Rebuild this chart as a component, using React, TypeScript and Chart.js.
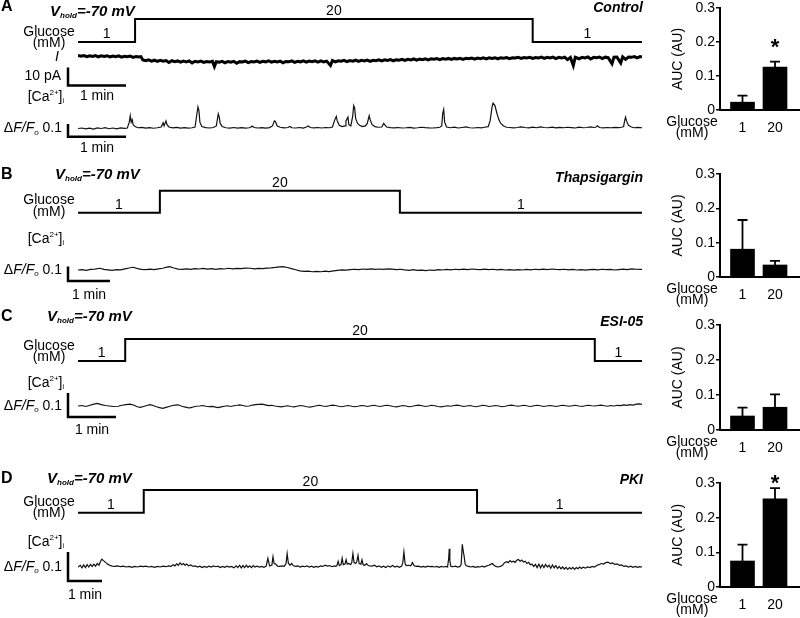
import React, { useEffect, useRef } from "react";
import { Chart, registerables } from "chart.js";
Chart.register(...registerables);

const FAMILY = '"Liberation Sans", Arial, Helvetica, sans-serif';

// ---------------- DATA ----------------
// Glucose protocol: [time (s), glucose (mM)]
const glucoseA = [[0, 1], [59, 1], [59, 20], [470, 20], [470, 1], [583, 1]];
const glucoseB = [[0, 1], [117, 1], [117, 20], [460, 20], [460, 1], [806, 1]];
const glucoseC = [[0, 1], [59, 1], [59, 20], [646, 20], [646, 1], [705, 1]];
const glucoseD = [[0, 1], [116, 1], [116, 20], [704, 20], [704, 1], [995, 1]];

// Holding current in panel A: [time (s), pA relative to start]
const currentA = [[0,-0.2],[3,-0.7],[6,-0.3],[9,-0.9],[12,-0.4],[15,-0.8],[18,-0.3],[21,-1.0],[24,-0.5],[27,-0.8],[30,-0.4],[33,-1.1],[36,-0.6],[39,-0.9],[42,-0.5],[45,-1.2],[48,-0.7],[51,-1.0],[54,-0.6],[57,-1.3],[60,-0.8],[63,-1.1],[65,-0.9],
[67,-2.8],[70,-3.2],[73,-2.7],[76,-3.4],[79,-2.9],[82,-3.6],[85,-3.0],[88,-3.5],[91,-3.1],[94,-4.2],[97,-3.2],[100,-3.7],[103,-3.3],[106,-4.0],[109,-3.4],[112,-3.8],[115,-3.3],[118,-4.4],[121,-3.5],[124,-3.9],[127,-3.4],[130,-4.1],[133,-3.6],[136,-3.9],[139,-3.5],[141,-6.4],[143,-3.7],[146,-4.0],[149,-3.5],[152,-4.3],[155,-3.6],[158,-4.0],[161,-3.5],[164,-4.6],[167,-3.7],[170,-3.9],[173,-3.4],[176,-4.2],[179,-3.6],[182,-3.9],[185,-3.4],[188,-4.1],[191,-3.5],[194,-3.8],[197,-3.3],[200,-4.0],[203,-3.5],[206,-3.9],[209,-3.4],[212,-4.3],[215,-3.6],[218,-3.8],[221,-3.3],[224,-4.1],[227,-3.5],[230,-3.8],[233,-3.3],[236,-4.0],[239,-3.4],[242,-3.7],[245,-3.2],[248,-3.9],[251,-3.2],[254,-3.8],[257,-3.4],[261,-5.8],[263,-3.1],[266,-3.8],[269,-3.2],[272,-3.5],[275,-3.0],[278,-3.7],[281,-3.1],[284,-3.4],[287,-2.9],[290,-3.6],[293,-3.0],[296,-3.3],[299,-2.8],[302,-3.5],[305,-2.9],[308,-3.2],[311,-2.7],[314,-3.3],[317,-2.7],[320,-3.0],[323,-2.5],[326,-3.2],[329,-2.6],[332,-2.9],[335,-2.4],[338,-3.0],[341,-2.4],[344,-2.7],[347,-2.2],[350,-2.9],[353,-2.3],[356,-2.6],[359,-2.1],[362,-2.7],[365,-2.1],[368,-2.4],[371,-2.0],[374,-2.6],[377,-2.0],[380,-2.3],[383,-1.9],[386,-2.5],[389,-1.9],[392,-2.2],[395,-1.8],[398,-2.4],[401,-1.8],[404,-2.1],[407,-1.7],[410,-2.3],[413,-1.7],[416,-2.0],[419,-1.6],[422,-2.2],[425,-1.6],[428,-1.9],[431,-1.5],[434,-2.1],[437,-1.5],[440,-1.8],[443,-1.4],[446,-2.0],[449,-1.5],[452,-1.7],[455,-1.3],[458,-1.9],[461,-1.4],[464,-1.7],[467,-1.3],[470,-1.9],[473,-1.4],[476,-1.6],[479,-1.2],[482,-1.9],[485,-1.3],[488,-1.6],[491,-1.2],[494,-2.0],[497,-1.3],[500,-1.7],[503,-1.2],[506,-2.6],[509,-1.4],[512,-5.8],[514,-1.3],[518,-2.1],[521,-1.3],[524,-1.6],[527,-1.1],[530,-2.2],[533,-1.3],[536,-1.5],[539,-1.1],[542,-2.0],[545,-1.2],[548,-1.5],[552,-4.8],[554,-1.2],[557,-1.1],[561,-4.4],[563,-1.0],[566,-2.4],[569,-1.1],[572,-1.3],[575,-0.9],[578,-1.6],[581,-0.9],[583,-1.2]];

// [Ca2+]i traces: [time (s), ΔF/F0]
const caA = [[0,0],[4,0.004],[8,-0.003],[12,0.003],[16,-0.004],[20,0.005],[24,0],[28,0.006],[32,-0.002],[36,0.004],[40,-0.003],[44,0.005],[48,0.001],[51,0.004],[53,0.05],[54,0.1],[55,0.05],[56,0.07],[57,0.03],[59,0.015],[62,0.006],[66,0.009],[70,0.003],[74,0.007],[78,0.002],[82,0.006],[86,0.012],[88,0.045],[89,0.02],[91,0.06],[92,0.03],[94,0.012],[98,0.005],[102,0.009],[106,0.003],[110,0.007],[114,0.003],[118,0.006],[121,0.012],[123,0.12],[124,0.17],[125,0.14],[126,0.05],[128,0.015],[132,0.007],[136,0.004],[140,0.008],[143,0.02],[145,0.115],[146,0.09],[147,0.04],[149,0.015],[153,0.006],[157,0.003],[161,0.008],[165,0.003],[169,0.007],[173,0.003],[177,0.006],[179,0.012],[180,0.02],[182,0.008],[186,0.004],[190,0.007],[194,0.003],[198,0.007],[201,0.02],[203,0.06],[204,0.055],[206,0.02],[209,0.01],[213,0.005],[217,0.008],[219,0.016],[221,0.006],[225,0.004],[229,0.008],[233,0.003],[236,0.012],[238,0.02],[240,0.008],[244,0.005],[248,0.008],[252,0.004],[256,0.008],[260,0.006],[263,0.012],[265,0.06],[267,0.095],[268,0.06],[270,0.025],[273,0.015],[276,0.02],[277,0.06],[279,0.09],[280,0.03],[282,0.02],[284,0.1],[285,0.18],[286,0.16],[287,0.08],[289,0.04],[291,0.025],[294,0.015],[297,0.02],[299,0.04],[301,0.1],[302,0.07],[304,0.03],[307,0.015],[310,0.01],[314,0.012],[316,0.04],[317,0.03],[319,0.012],[323,0.007],[327,0.005],[331,0.008],[335,0.004],[339,0.006],[343,0.009],[347,0.003],[351,0.006],[355,0.01],[359,0.007],[363,0.005],[367,0.004],[371,0.007],[374,0.01],[376,0.02],[377,0.12],[378,0.15],[379,0.05],[381,0.012],[385,0.006],[389,0.01],[393,0.004],[397,0.008],[401,0.012],[405,0.006],[409,0.004],[413,0.008],[417,0.005],[420,0.01],[424,0.015],[426,0.06],[428,0.17],[429,0.2],[431,0.18],[433,0.12],[435,0.07],[437,0.04],[440,0.02],[443,0.01],[446,0.008],[450,0.005],[454,0.008],[458,0.012],[462,0.008],[466,0.005],[470,0.01],[474,0.006],[478,0.012],[482,0.008],[486,0.006],[490,0.01],[494,0.005],[498,0.009],[502,0.006],[506,0.01],[510,0.007],[514,0.004],[518,0.01],[522,0.006],[526,0.008],[530,0.012],[533,0.008],[535,0.01],[537,0.022],[539,0.008],[543,0.005],[547,0.008],[551,0.006],[555,0.009],[559,0.007],[562,0.01],[564,0.015],[565,0.06],[566,0.09],[567,0.06],[569,0.025],[572,0.012],[575,0.006],[579,0.009],[583,0.006]];

const caB = [[0,0],[6,0.003],[12,-0.002],[18,0.004],[24,0.006],[31,0.012],[37,0.004],[43,0.001],[49,-0.002],[55,0.003],[61,0.001],[67,0.008],[73,0.014],[79,0.019],[85,0.01],[91,0.004],[97,0.002],[103,0.006],[109,0.003],[115,0.008],[121,0.012],[127,0.02],[131,0.023],[137,0.014],[143,0.006],[149,0.004],[155,0.008],[161,0.005],[167,0.01],[173,0.007],[179,0.011],[185,0.006],[191,0.009],[197,0.005],[203,0.01],[209,0.007],[215,0.012],[221,0.008],[227,0.011],[233,0.009],[239,0.013],[246,0.012],[252,0.008],[258,0.011],[264,0.009],[270,0.013],[276,0.015],[282,0.018],[288,0.022],[293,0.023],[299,0.017],[305,0.01],[311,0.002],[317,-0.006],[323,-0.01],[329,-0.008],[335,-0.012],[341,-0.009],[347,-0.012],[353,-0.008],[359,-0.011],[365,-0.006],[371,-0.002],[377,0.001],[383,-0.001],[389,0.002],[395,0.005],[401,0.003],[407,0.007],[413,0.004],[419,0.008],[425,0.005],[431,0.007],[437,0.004],[443,0.008],[449,0.006],[455,0.002],[461,0.005],[467,0.001],[473,-0.002],[479,0.002],[485,-0.003],[491,-0.001],[497,-0.004],[503,0.0],[509,-0.002],[515,0.002],[521,0.0],[527,0.004],[533,0.001],[539,0.005],[545,0.002],[551,0.006],[557,0.003],[563,0.007],[569,0.004],[575,0.002],[581,0.006],[587,0.003],[593,0.005],[599,0.001],[605,0.004],[611,0.0],[617,0.003],[623,-0.001],[629,0.002],[635,0.0],[641,0.004],[647,0.001],[653,0.005],[659,0.002],[665,0.006],[671,0.003],[677,0.007],[683,0.004],[689,0.002],[695,0.005],[701,0.001],[707,0.004],[713,0.0],[719,0.003],[725,-0.001],[731,0.002],[737,0.004],[743,0.001],[749,0.005],[755,0.002],[761,0.004],[767,0.0],[773,0.003],[779,0.006],[785,0.003],[791,0.008],[797,0.005],[806,0.004]];

const caC = [[0,0],[5,0.002],[10,-0.002],[15,0.003],[20,0.008],[24,0.011],[29,0.006],[34,0.002],[39,0.0],[44,-0.002],[50,-0.001],[55,0.003],[60,0.006],[65,0.008],[70,0.003],[74,-0.003],[78,-0.006],[82,-0.002],[86,0.002],[90,0.006],[94,0.002],[98,-0.003],[102,-0.007],[106,-0.01],[110,-0.006],[114,-0.002],[118,0.002],[122,0.004],[125,0.005],[129,0.0],[133,-0.004],[137,-0.007],[140,-0.008],[144,-0.004],[148,-0.001],[152,0.0],[156,0.002],[160,-0.001],[164,-0.003],[168,-0.002],[172,-0.005],[175,-0.007],[179,-0.004],[183,-0.001],[187,0.001],[191,-0.002],[195,0.001],[199,0.003],[202,0.005],[206,0.002],[210,-0.001],[214,0.0],[218,0.004],[222,0.006],[226,0.007],[230,0.008],[234,0.005],[238,0.002],[242,0.003],[246,0.0],[250,-0.002],[254,-0.004],[258,-0.001],[262,0.001],[266,-0.002],[270,-0.004],[274,-0.001],[278,0.002],[282,0.0],[286,-0.003],[290,-0.005],[294,-0.002],[298,0.001],[302,0.003],[306,0.0],[310,-0.002],[314,0.001],[318,0.004],[322,0.002],[326,-0.001],[330,-0.003],[334,0.0],[338,0.002],[342,-0.001],[346,-0.003],[350,-0.001],[354,0.002],[358,0.001],[362,-0.002],[366,0.001],[370,0.003],[374,0.0],[378,-0.002],[382,0.001],[386,0.003],[390,0.001],[394,-0.002],[398,-0.004],[402,-0.001],[406,0.002],[410,0.0],[414,-0.003],[418,-0.001],[422,0.002],[426,0.004],[430,0.001],[434,-0.002],[438,0.0],[442,0.003],[446,0.001],[450,-0.002],[454,-0.004],[458,-0.001],[462,0.001],[466,-0.001],[470,0.002],[474,0.004],[478,0.001],[482,-0.002],[486,0.0],[490,0.002],[494,-0.001],[498,-0.003],[502,0.0],[506,0.003],[510,0.001],[514,-0.002],[518,0.0],[522,0.002],[526,0.0],[530,-0.003],[534,-0.001],[538,0.002],[542,0.004],[546,0.001],[550,-0.001],[554,0.001],[558,0.003],[562,0.0],[566,-0.002],[570,0.001],[574,0.003],[578,0.001],[582,-0.002],[586,0.0],[590,0.002],[594,0.0],[598,-0.002],[602,0.001],[606,0.003],[610,0.001],[614,-0.001],[618,0.001],[622,0.003],[626,0.0],[630,-0.002],[634,0.001],[638,0.003],[642,0.001],[646,0.0],[650,0.002],[654,0.004],[658,0.001],[662,-0.001],[666,0.002],[670,0.0],[674,0.003],[678,0.002],[682,0.005],[686,0.003],[690,0.006],[694,0.004],[698,0.008],[702,0.009],[705,0.007]];

const caD = [[0,0],[4,0.006],[7,-0.003],[10,0.007],[13,-0.002],[16,0.008],[19,0.0],[22,0.009],[25,0.002],[28,0.01],[31,0.003],[34,0.012],[37,0.006],[40,0.02],[42,0.027],[45,0.022],[49,0.015],[53,0.009],[56,0.006],[60,0.003],[65,0.002],[70,0.004],[75,0.001],[80,0.003],[85,0.0],[90,0.002],[95,-0.001],[100,0.002],[105,0.0],[110,0.003],[115,0.001],[120,0.003],[125,0.0],[130,0.002],[135,-0.001],[140,0.002],[145,0.0],[150,0.003],[155,0.001],[160,0.004],[164,0.002],[168,0.008],[171,0.004],[174,0.011],[177,0.006],[180,0.014],[183,0.008],[186,0.012],[189,0.006],[192,0.01],[195,0.004],[199,0.007],[203,0.002],[207,0.004],[211,0.0],[215,0.003],[219,-0.002],[223,0.002],[227,-0.001],[231,0.003],[235,0.0],[239,0.004],[243,0.001],[247,0.003],[251,-0.002],[255,0.002],[259,-0.001],[263,0.003],[267,0.0],[271,0.002],[275,-0.003],[279,0.004],[282,-0.002],[285,0.006],[288,-0.003],[291,0.005],[294,-0.002],[297,0.006],[300,-0.001],[303,0.004],[306,-0.002],[309,0.005],[312,0.0],[316,0.003],[320,0.0],[324,0.002],[328,-0.001],[332,0.003],[335,0.03],[338,0.004],[342,0.006],[344,0.035],[346,0.012],[349,0.01],[352,0.003],[356,0.002],[360,0.004],[364,0.002],[367,0.012],[369,0.046],[371,0.014],[374,0.006],[377,0.012],[380,0.004],[384,0.002],[388,0.004],[392,0.0],[396,0.003],[400,0.001],[404,0.004],[408,0.0],[412,0.003],[416,-0.001],[420,0.002],[424,0.0],[428,0.004],[432,0.002],[436,0.006],[440,0.003],[444,0.005],[448,0.001],[452,0.004],[455,0.002],[457,0.006],[459,0.02],[461,0.005],[464,0.008],[466,0.03],[468,0.008],[471,0.01],[473,0.025],[475,0.01],[478,0.012],[481,0.008],[483,0.015],[485,0.046],[487,0.015],[490,0.012],[492,0.02],[494,0.04],[496,0.012],[499,0.01],[501,0.025],[503,0.008],[506,0.006],[509,0.012],[512,0.005],[515,0.004],[519,0.003],[523,0.006],[527,0.001],[531,0.004],[535,-0.001],[539,0.003],[543,-0.002],[547,0.004],[551,0.0],[555,0.005],[559,0.0],[563,0.003],[567,-0.001],[571,0.003],[573,0.015],[575,0.052],[577,0.012],[579,0.005],[583,0.006],[587,0.004],[590,0.015],[593,0.004],[597,0.002],[601,0.003],[605,0.0],[609,0.002],[613,0.0],[617,0.003],[621,0.001],[625,0.002],[629,0.0],[633,0.002],[637,-0.001],[641,0.002],[645,0.0],[649,0.002],[652,0.0],[654,0.03],[655,0.063],[656,0.02],[658,0.002],[662,0.001],[666,0.003],[670,0.0],[674,0.002],[676,0.01],[678,0.078],[680,0.05],[681,0.04],[683,0.01],[685,0.004],[689,0.002],[693,0.0],[697,0.002],[701,-0.001],[705,0.001],[709,0.0],[713,0.003],[717,0.0],[721,0.004],[725,0.006],[729,0.01],[731,0.012],[734,0.006],[737,0.002],[741,0.0],[745,0.002],[749,0.006],[752,0.014],[756,0.018],[759,0.015],[762,0.022],[765,0.017],[768,0.02],[771,0.016],[774,0.023],[777,0.026],[780,0.02],[783,0.024],[786,0.017],[789,0.02],[792,0.012],[795,0.016],[798,0.008],[801,0.01],[804,0.002],[807,0.009],[810,-0.002],[813,0.01],[816,-0.003],[819,0.008],[822,-0.002],[825,0.009],[828,0.0],[831,0.006],[834,-0.004],[837,0.007],[840,-0.003],[843,0.005],[846,-0.005],[849,0.002],[852,-0.006],[855,0.0],[858,-0.007],[861,-0.001],[864,-0.008],[867,-0.002],[870,-0.007],[873,-0.001],[876,-0.008],[879,-0.002],[882,-0.006],[885,0.0],[888,-0.005],[891,-0.001],[895,-0.004],[899,0.0],[903,-0.002],[907,0.002],[911,0.0],[915,0.005],[919,0.008],[923,0.012],[927,0.01],[931,0.015],[935,0.017],[939,0.012],[943,0.014],[947,0.009],[951,0.011],[955,0.006],[959,0.007],[963,0.002],[967,0.004],[971,0.0],[975,0.003],[979,-0.001],[983,0.002],[987,-0.001],[991,0.001],[995,0.0]];

// Bar charts: AUC (AU) by glucose concentration
const glucoseCategories = ["1", "20"];
const aucControl = [0.023, 0.126];
const semControl = [0.019, 0.016];
const aucThapsigargin = [0.081, 0.035];
const semThapsigargin = [0.085, 0.012];
const aucESI05 = [0.04, 0.065];
const semESI05 = [0.024, 0.037];
const aucPKI = [0.075, 0.254];
const semPKI = [0.047, 0.031];
const starControl = [null, 0.198];
const starThapsigargin = [null, null];
const starESI05 = [null, null];
const starPKI = [null, 0.312];

// ---------------- LAYOUT ----------------
const rowsLayout: any[] = [
  { letter: "A", drug: "Control", glucose: glucoseA, ca: caA, current: currentA, top: 0, height: 160,
    gPix: [42, 19], caZero: 128.5, caPer01: 12.7, caBarBase: -0.065, curZero: 55, curPer10: 18, curBar: [-17, -7],
    letterY: 7, vholdX: 50, vholdY: 12, drugY: 8, gLbl: [32, 43.5], caLblY: 97, iLblY: 57, minDy: 11 },
  { letter: "B", drug: "Thapsigargin", glucose: glucoseB, ca: caB, top: 160, height: 140,
    gPix: [52.7, 30.7], caZero: 110, caPer01: 14.5, caBarBase: -0.076,
    letterY: 15, vholdX: 55, vholdY: 15, drugY: 18, gLbl: [40, 51.7], caLblY: 79, minDy: 14 },
  { letter: "C", drug: "ESI-05", glucose: glucoseC, ca: caC, top: 300, height: 140,
    gPix: [61, 39], caZero: 106, caPer01: 24, caBarBase: -0.046,
    letterY: 17, vholdX: 47, vholdY: 17, drugY: 22, gLbl: [45.7, 57.3], caLblY: 83, minDy: 13 },
  { letter: "D", drug: "PKI", glucose: glucoseD, ca: caD, top: 440, height: 178,
    gPix: [72.7, 50], caZero: 127, caPer01: 29, caBarBase: -0.048,
    letterY: 39, vholdX: 47, vholdY: 39, drugY: 40, gLbl: [61.7, 72.7], caLblY: 101.7, minDy: 14 },
];

const barsLayout: any[] = [
  { key: "A", values: aucControl, sems: semControl, stars: starControl, y03: 8, y0: 110 },
  { key: "B", values: aucThapsigargin, sems: semThapsigargin, stars: starThapsigargin, y03: 174, y0: 277 },
  { key: "C", values: aucESI05, sems: semESI05, stars: starESI05, y03: 325, y0: 430 },
  { key: "D", values: aucPKI, sems: semPKI, stars: starPKI, y03: 482.7, y0: 586.7 },
];

// ---------------- HELPERS ----------------
function fontStr(size: number, b?: boolean, i?: boolean) {
  return `${i ? "italic " : ""}${b ? "bold " : ""}${size}px ${FAMILY}`;
}
type Run = { t: string; size: number; b?: boolean; i?: boolean; dy?: number };
function drawRuns(ctx: CanvasRenderingContext2D, runs: Run[], x: number, y: number, align: string) {
  ctx.save();
  ctx.textBaseline = "middle";
  ctx.textAlign = "left";
  ctx.fillStyle = "#000";
  const widths = runs.map((r) => {
    ctx.font = fontStr(r.size, r.b, r.i);
    return ctx.measureText(r.t).width;
  });
  const total = widths.reduce((a, b) => a + b, 0);
  let cx = align === "right" ? x - total : align === "center" ? x - total / 2 : x;
  runs.forEach((r, k) => {
    ctx.font = fontStr(r.size, r.b, r.i);
    ctx.fillText(r.t, cx, y + (r.dy || 0));
    cx += widths[k];
  });
  ctx.restore();
}
function xy(arr: number[][]) {
  return arr.map(([x, y]) => ({ x, y }));
}
function yRange(v1: number, p1: number, v2: number, p2: number, H: number) {
  const k = (p2 - p1) / (v2 - v1);
  return { min: v1 + (H - p1) / k, max: v1 - p1 / k };
}

function rowPlugin(row: any) {
  return {
    id: "rowDecor",
    afterDraw(chart: any) {
      const ctx: CanvasRenderingContext2D = chart.ctx;
      const xs = chart.scales.x;
      const yg = chart.scales.yg;
      const yc = chart.scales.yc;
      const L = chart.chartArea.left;
      const R = chart.chartArea.right;
      drawRuns(ctx, [{ t: row.letter, size: 16, b: true }], 1, row.letterY, "left");
      drawRuns(ctx, [
        { t: "V", size: 15, b: true, i: true },
        { t: "hold", size: 8, b: true, i: true, dy: 4 },
        { t: "=-70 mV", size: 15, b: true, i: true },
      ], row.vholdX, row.vholdY, "left");
      drawRuns(ctx, [{ t: row.drug, size: 14, b: true, i: true }], R + 1, row.drugY, "right");
      // glucose level labels centred over each flat segment
      const g = row.glucose;
      for (let k = 0; k < g.length - 1; k++) {
        if (g[k][1] === g[k + 1][1] && g[k][0] !== g[k + 1][0]) {
          const xm = (xs.getPixelForValue(g[k][0]) + xs.getPixelForValue(g[k + 1][0])) / 2;
          drawRuns(ctx, [{ t: String(g[k][1]), size: 14 }], xm, yg.getPixelForValue(g[k][1]) - 8, "center");
        }
      }
      drawRuns(ctx, [{ t: "Glucose", size: 14 }], 49, row.gLbl[0], "center");
      drawRuns(ctx, [{ t: "(mM)", size: 14 }], 49, row.gLbl[1], "center");
      drawRuns(ctx, [
        { t: "[Ca", size: 14 },
        { t: "2+", size: 8, dy: -4 },
        { t: "]", size: 14 },
        { t: "i", size: 7, dy: 4 },
      ], L - 14, row.caLblY, "right");
      const oneMin = xs.getPixelForValue(60) - xs.getPixelForValue(0);
      const bx = L - 10;
      ctx.save();
      ctx.strokeStyle = "#000";
      ctx.lineWidth = 2.5;
      ctx.lineCap = "butt";
      ctx.lineJoin = "miter";
      // Ca scale bar: 0.1 ΔF/F0 and 1 min
      const yb = yc.getPixelForValue(row.caBarBase);
      const yt = yc.getPixelForValue(row.caBarBase + 0.1);
      ctx.beginPath();
      ctx.moveTo(bx, yt);
      ctx.lineTo(bx, yb);
      ctx.lineTo(bx + oneMin, yb);
      ctx.stroke();
      if (row.current) {
        const yi = chart.scales.yi;
        const ib = yi.getPixelForValue(row.curBar[0]);
        const it = yi.getPixelForValue(row.curBar[0] + 10);
        ctx.beginPath();
        ctx.moveTo(bx, it);
        ctx.lineTo(bx, ib);
        ctx.lineTo(bx + oneMin, ib);
        ctx.stroke();
        ctx.restore();
        drawRuns(ctx, [{ t: "10 pA", size: 14 }], L - 17, (ib + it) / 2, "right");
        drawRuns(ctx, [{ t: "1 min", size: 14 }], bx + oneMin / 2, ib + 11, "center");
        drawRuns(ctx, [{ t: "I", size: 14, i: true }], 57, row.iLblY, "center");
      } else {
        ctx.restore();
      }
      drawRuns(ctx, [{ t: "1 min", size: 14 }], bx + oneMin / 2, yb + row.minDy, "center");
      drawRuns(ctx, [
        { t: "\u0394", size: 14 },
        { t: "F/F", size: 14, i: true },
        { t: "o", size: 8, i: true, dy: 4 },
        { t: " 0.1", size: 14 },
      ], L - 16, yc.getPixelForValue(0), "right");
    },
  };
}

function RowTrace({ row }: { row: any }) {
  const ref = useRef<HTMLCanvasElement>(null);
  useEffect(() => {
    const H = row.height;
    const gR = yRange(1, row.gPix[0], 20, row.gPix[1], H);
    const cR = yRange(0, row.caZero, 0.1, row.caZero - row.caPer01, H);
    const datasets: any[] = [
      { data: xy(row.glucose), yAxisID: "yg", borderColor: "#000", borderWidth: 2, pointRadius: 0, tension: 0, borderJoinStyle: "miter" },
      { data: xy(row.ca), yAxisID: "yc", borderColor: "#111", borderWidth: 1.2, pointRadius: 0, tension: 0 },
    ];
    const scales: any = {
      x: { type: "linear", display: false, min: 0, max: row.glucose[row.glucose.length - 1][0] },
      yg: { type: "linear", display: false, min: gR.min, max: gR.max },
      yc: { type: "linear", display: false, min: cR.min, max: cR.max },
    };
    if (row.current) {
      const iR = yRange(0, row.curZero, -10, row.curZero + row.curPer10, H);
      scales.yi = { type: "linear", display: false, min: iR.min, max: iR.max };
      datasets.push({ data: xy(row.current), yAxisID: "yi", borderColor: "#000", borderWidth: 3, pointRadius: 0, tension: 0 });
    }
    const chart = new Chart(ref.current as HTMLCanvasElement, {
      type: "line",
      data: { datasets },
      options: {
        animation: false,
        responsive: false,
        events: [],
        layout: { padding: { left: 78, right: 6, top: 0, bottom: 0 } },
        plugins: { legend: { display: false }, tooltip: { enabled: false } },
        scales,
      } as any,
      plugins: [rowPlugin(row)],
    });
    return () => chart.destroy();
  }, []);
  return <canvas ref={ref} width={648} height={row.height} style={{ position: "absolute", left: 0, top: row.top }} />;
}

const errorBarPlugin = {
  id: "errorBars",
  afterDatasetsDraw(chart: any) {
    const cfg = chart.options.plugins.errorBars;
    const ctx: CanvasRenderingContext2D = chart.ctx;
    const xs = chart.scales.x;
    const ys = chart.scales.y;
    ctx.save();
    ctx.strokeStyle = "#000";
    ctx.lineWidth = 1.8;
    cfg.values.forEach((v: number, i: number) => {
      const x = xs.getPixelForValue(i + 1);
      const y1 = ys.getPixelForValue(v);
      const y2 = ys.getPixelForValue(v + cfg.sems[i]);
      ctx.beginPath();
      ctx.moveTo(x, y1);
      ctx.lineTo(x, y2);
      ctx.moveTo(x - 5, y2);
      ctx.lineTo(x + 5, y2);
      ctx.stroke();
    });
    ctx.restore();
    cfg.stars.forEach((s: number | null, i: number) => {
      if (s == null) return;
      drawRuns(ctx, [{ t: "*", size: 22, b: true }], xs.getPixelForValue(i + 1), ys.getPixelForValue(s) + 5, "center");
    });
    const axisY = xs.top;
    drawRuns(ctx, [{ t: "Glucose", size: 14 }], 52, axisY + 12.5, "center");
    drawRuns(ctx, [{ t: "(mM)", size: 14 }], 52, axisY + 23.5, "center");
  },
};

function BarPanel({ cfg }: { cfg: any }) {
  const ref = useRef<HTMLCanvasElement>(null);
  const T = cfg.y03 - 16;
  const H = Math.round(cfg.y0 - T + 30);
  useEffect(() => {
    const chart = new Chart(ref.current as HTMLCanvasElement, {
      type: "bar",
      data: {
        datasets: [{
          data: cfg.values.map((v: number, i: number) => ({ x: i + 1, y: v })),
          backgroundColor: "#000",
          borderWidth: 0,
          barThickness: 24,
        }],
      },
      options: {
        animation: false,
        responsive: false,
        events: [],
        layout: { padding: { top: 16, left: 30, right: 0, bottom: 0 } },
        plugins: {
          legend: { display: false },
          tooltip: { enabled: false },
          errorBars: { values: cfg.values, sems: cfg.sems, stars: cfg.stars },
        },
        scales: {
          x: {
            type: "linear",
            offset: false,
            min: 1 - 22.5 / 32.5,
            max: 2 + 25 / 32.5,
            grid: { display: false, drawTicks: false, tickLength: 0 },
            border: { display: true, color: "#000", width: 2 },
            ticks: {
              color: "#000",
              padding: 10,
              font: { family: FAMILY, size: 14 },
              callback: (v: any) => glucoseCategories[Math.round(v) - 1] ?? "",
            },
            afterBuildTicks: (s: any) => {
              s.ticks = glucoseCategories.map((_, i) => ({ value: i + 1 }));
            },
            afterFit: (s: any) => {
              s.height = 30;
            },
          },
          y: {
            min: 0,
            max: 0.3,
            grid: { drawOnChartArea: false, drawTicks: true, tickLength: 4, color: "#000", lineWidth: 1.5 },
            border: { display: true, color: "#000", width: 2 },
            ticks: {
              stepSize: 0.1,
              color: "#000",
              padding: 1,
              font: { family: FAMILY, size: 14 },
              callback: (v: any) => (Math.abs(v) < 1e-9 ? "0" : Number(v).toFixed(1)),
            },
            title: { display: true, text: "AUC (AU)", color: "#000", font: { family: FAMILY, size: 14 }, padding: 0 },
            afterFit: (s: any) => {
              s.width = 50;
            },
          },
        },
      } as any,
      plugins: [errorBarPlugin],
    });
    return () => chart.destroy();
  }, []);
  return <canvas ref={ref} width={160} height={H} style={{ position: "absolute", left: 640, top: T }} />;
}

export default function App() {
  return (
    <div style={{ position: "absolute", left: 0, top: 0, width: 800, height: 618, background: "#fff", overflow: "hidden" }}>
      {rowsLayout.map((r) => (
        <RowTrace key={r.letter} row={r} />
      ))}
      {barsLayout.map((b) => (
        <BarPanel key={b.key} cfg={b} />
      ))}
    </div>
  );
}
